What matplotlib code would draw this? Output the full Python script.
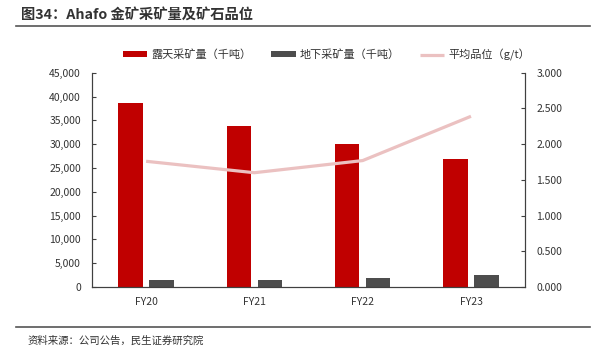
import numpy as np
import matplotlib.pyplot as plt
from matplotlib.ticker import FuncFormatter

plt.rcParams['font.family'] = ['Noto Sans CJK SC', 'DejaVu Sans']

years = ["FY20", "FY21", "FY22", "FY23"]
open_pit = [38700, 33750, 30100, 26800]
underground = [1400, 1400, 1800, 2450]
grade = [1.76, 1.60, 1.77, 2.39]

red = "#C00000"
dark = "#4D4D4D"
pink = "#EBC1C1"

fig = plt.figure(figsize=(6.05, 3.53), dpi=100)
ax = fig.add_axes([0.152, 0.187, 0.716, 0.607])
ax2 = ax.twinx()

x = np.arange(len(years))
w = 0.225
ax.bar(x - 0.143, open_pit, w, color=red, label="露天采矿量（千吨）", zorder=2)
ax.bar(x + 0.143, underground, w, color=dark, label="地下采矿量（千吨）", zorder=2)
ax2.plot(x, grade, color=pink, lw=2.3, label="平均品位（g/t）", solid_capstyle="butt")

ax.set_xlim(-0.5, 3.5)
ax.set_ylim(0, 45000)
ax.set_yticks(np.arange(0, 45001, 5000))
ax.yaxis.set_major_formatter(FuncFormatter(lambda v, p: f"{int(v):,}"))
ax2.set_ylim(0, 3)
ax2.set_yticks(np.arange(0, 3.01, 0.5))
ax2.yaxis.set_major_formatter(FuncFormatter(lambda v, p: f"{v:.3f}"))
ax.set_xticks(x)
ax.set_xticklabels(years)

for a in (ax, ax2):
    a.spines['top'].set_visible(False)
    for s in ('left', 'right', 'bottom'):
        a.spines[s].set_color("#404040")
        a.spines[s].set_linewidth(0.8)
    a.tick_params(axis='y', direction='in', length=3, labelsize=7.5, labelcolor="#333333", color="#404040")
ax.tick_params(axis='x', length=0, labelsize=7.5, labelcolor="#333333", pad=7)
ax.tick_params(axis='y', pad=8)
ax2.tick_params(axis='y', pad=8)

h1, l1 = ax.get_legend_handles_labels()
h2, l2 = ax2.get_legend_handles_labels()
fig.legend(h1 + h2, l1 + l2, loc="center left", bbox_to_anchor=(0.203, 0.845), ncol=3,
           frameon=False, fontsize=8, handlelength=2.2, handleheight=0.5,
           columnspacing=1.8, handletextpad=0.35, labelcolor="#333333",
           borderaxespad=0, borderpad=0)

fig.text(0.035, 0.958, "图34：Ahafo 金矿采矿量及矿石品位", fontsize=10.3, fontweight="bold",
         color="#333333", va="center")
fig.add_artist(plt.Line2D([0.027, 0.975], [0.925, 0.925], color="#555555", lw=1.2))
fig.add_artist(plt.Line2D([0.027, 0.975], [0.073, 0.073], color="#555555", lw=1.2))
fig.text(0.045, 0.035, "资料来源：公司公告，民生证券研究院", fontsize=7.5, color="#333333", va="center")

fig.savefig("out.png", dpi=100)
